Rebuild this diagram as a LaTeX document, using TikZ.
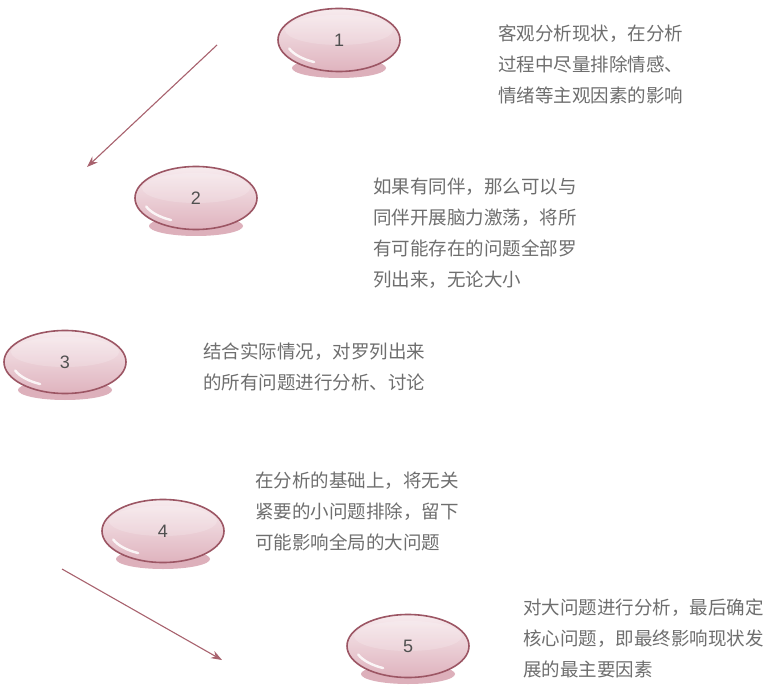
\documentclass[tikz,border=0pt]{standalone}
\usepackage{fontspec}
\setmainfont{Liberation Sans}
\newfontfamily\cjk{Noto Sans CJK SC}
\usetikzlibrary{shapes.geometric,arrows.meta}
\definecolor{txtc}{HTML}{6E6E6E}
\definecolor{numc}{HTML}{505050}
\definecolor{edgec}{HTML}{9C5664}
\definecolor{pinktop}{HTML}{F7EBEE}
\definecolor{pinkbot}{HTML}{DFB3BE}
\definecolor{shadowc}{HTML}{DDB0BB}
\definecolor{arrc}{HTML}{A8626E}
\tikzset{
  pill/.style={ellipse, draw=edgec, line width=1.6pt, top color=pinktop, bottom color=pinkbot,
    minimum width=122pt, minimum height=63pt, inner sep=0pt,
    font=\fontsize{18}{18}\selectfont, text=numc,
    path picture={
      \fill[white, opacity=.18] (path picture bounding box.center) ++(0,-10) ellipse (54 and 15);
      \draw[white, line width=2.4pt, opacity=.85, line cap=round]
        (path picture bounding box.center) ++(160:53 and 25) arc (160:118:53 and 25);
    }},
  desc/.style={anchor=north west, inner sep=0pt, align=left, text=txtc,
    font=\cjk\fontsize{18.5}{31}\selectfont},
  arr/.style={draw=arrc, line width=1.1pt, -{Stealth[length=11pt,width=8pt]}}
}
\newcommand\pill[4]{%
  \fill[shadowc] (#2,#3+28) ellipse (47 and 10);
  \node[pill] (#1) at (#2,#3) {#4};
}
\begin{document}
\begin{tikzpicture}[x=1pt,y=-1pt]
\useasboundingbox[fill=white] (0,0) rectangle (767,700);
\pill{e1}{339}{40}{1}
\pill{e2}{196}{198}{2}
\pill{e3}{65}{362}{3}
\pill{e4}{163}{531}{4}
\pill{e5}{408}{646}{5}
\node[desc] (t1) at (498,25) {客观分析现状，在分析\\过程中尽量排除情感、\\情绪等主观因素的影响};
\node[desc] (t2) at (373,178) {如果有同伴，那么可以与\\同伴开展脑力激荡，将所\\有可能存在的问题全部罗\\列出来，无论大小};
\node[desc] (t3) at (203,343) {结合实际情况，对罗列出来\\的所有问题进行分析、讨论};
\node[desc] (t4) at (255,472) {在分析的基础上，将无关\\紧要的小问题排除，留下\\可能影响全局的大问题};
\node[desc] (t5) at (523,599) {对大问题进行分析，最后确定\\核心问题，即最终影响现状发\\展的最主要因素};
\coordinate (a1s) at (217,45);
\coordinate (a1e) at (87,167);
\coordinate (a2s) at (62,569);
\coordinate (a2e) at (222,660);
\draw[arr] (a1s) -- (a1e);
\draw[arr] (a2s) -- (a2e);
\end{tikzpicture}
\end{document}
